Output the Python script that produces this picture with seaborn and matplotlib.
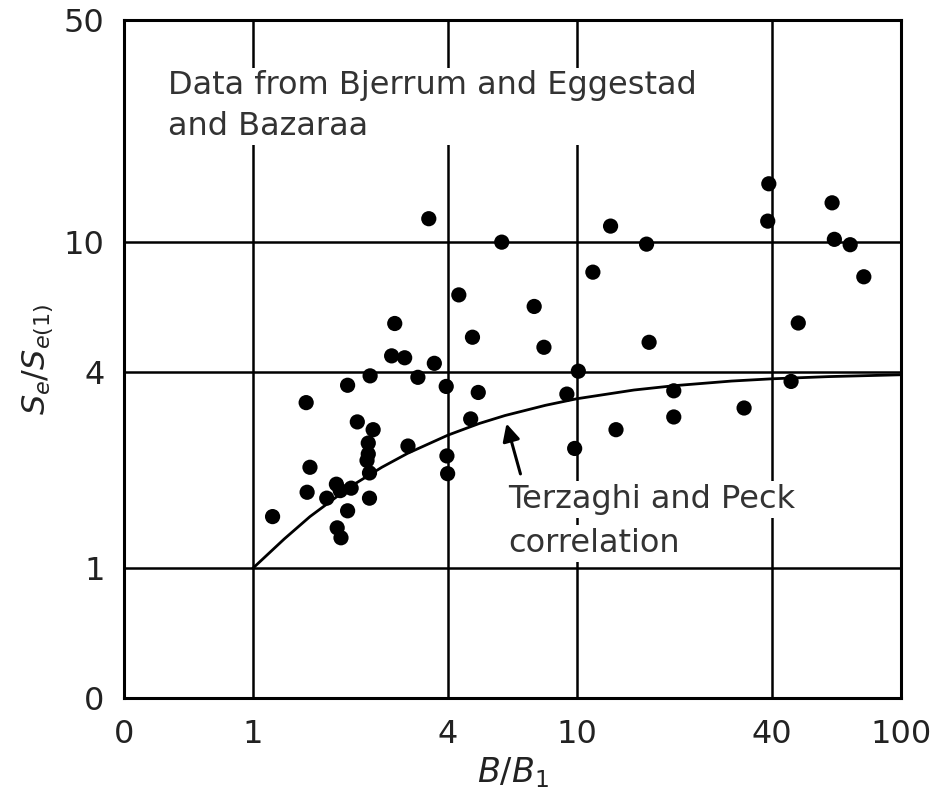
import numpy as np
import pandas as pd
import seaborn as sns
import matplotlib
matplotlib.use('Agg')
import matplotlib.pyplot as plt
from matplotlib.ticker import NullLocator

b_ratio = [2.74, 4.76, 2.68, 2.94, 3.63, 2.30, 3.23, 1.96, 3.95, 4.96,
           1.46, 2.10, 2.35, 2.27, 3.01, 2.27, 4.70, 3.97, 2.25, 1.50,
           2.29, 3.99, 1.81, 2.01, 1.47, 1.69, 2.29, 1.96, 1.15, 1.82,
           1.87, 3.49, 5.86, 12.7, 16.4, 11.2, 4.32, 7.38, 7.91, 16.7,
           10.1, 9.31, 13.2, 9.84, 39.1, 61.3, 38.8, 62.3, 69.7, 76.8,
           48.2, 45.8, 19.9, 19.9, 32.8, 1.86]
se_ratio = [5.63, 5.11, 4.48, 4.42, 4.25, 3.89, 3.85, 3.64, 3.61, 3.46,
            3.22, 2.81, 2.66, 2.42, 2.37, 2.24, 2.87, 2.21, 2.14, 2.04,
            1.96, 1.95, 1.81, 1.76, 1.71, 1.64, 1.64, 1.50, 1.44, 1.33,
            1.24, 11.8, 10.0, 11.2, 9.86, 8.09, 6.89, 6.35, 4.76, 4.93,
            4.02, 3.42, 2.66, 2.33, 15.1, 13.2, 11.6, 10.2, 9.82, 7.83,
            5.65, 3.74, 3.50, 2.91, 3.10, 1.73]

# Terzaghi and Peck correlation curve
tp_b = [1, 1.25, 1.5, 2, 2.5, 3, 4, 5, 6, 8, 10, 15, 20, 30, 40, 60, 100]
tp_se = [1.00, 1.23, 1.44, 1.78, 2.04, 2.25, 2.56, 2.78, 2.94, 3.16,
         3.31, 3.52, 3.63, 3.75, 3.81, 3.87, 3.92]

x_ticks = [0.4, 1, 4, 10, 40, 100]
x_labels = ['0', '1', '4', '10', '40', '100']
y_ticks = [0.4, 1, 4, 10, 48]
y_labels = ['0', '1', '4', '10', '50']

pts = pd.DataFrame({'b': b_ratio, 'se': se_ratio})
curve = pd.DataFrame({'b': tp_b, 'se': tp_se})

sns.set_theme(style='white')
plt.rcParams['font.family'] = ['DejaVu Sans']
plt.rcParams['mathtext.fontset'] = 'dejavusans'

fig = plt.figure(figsize=(9.32, 8.0), dpi=100)
ax = fig.add_axes([0.133, 0.1275, 0.8337, 0.8475])
ax.set_xscale('log')
ax.set_yscale('log')

sns.lineplot(data=curve, x='b', y='se', color='black', lw=2.0, ax=ax, zorder=3)
sns.scatterplot(data=pts, x='b', y='se', color='black', s=120, edgecolor='none', ax=ax, zorder=4)

ax.set_xlim(0.4, 100)
ax.set_ylim(0.4, 48)
ax.set_xticks(x_ticks)
ax.set_xticklabels(x_labels)
ax.set_yticks(y_ticks)
ax.set_yticklabels(y_labels)
ax.xaxis.set_minor_locator(NullLocator())
ax.yaxis.set_minor_locator(NullLocator())
ax.tick_params(axis='both', length=0, labelsize=23, labelcolor='#222222')
ax.tick_params(axis='x', pad=15)
ax.tick_params(axis='y', pad=14)

ax.grid(True, which='major', color='black', lw=1.8)
for sp in ax.spines.values():
    sp.set_color('black')
    sp.set_linewidth(2.2)

ax.set_xlabel(r'$B/B_1$', fontsize=24, color='#222222', labelpad=4)
ax.set_ylabel(r'$S_e/S_{e(1)}$', fontsize=23, color='#222222', labelpad=6)

ax.text(0.0566, 0.8304, 'Data from Bjerrum and Eggestad\nand Bazaraa', transform=ax.transAxes,
        fontsize=23, color='#333333', va='baseline', ha='left', linespacing=1.4,
        bbox=dict(facecolor='white', edgecolor='none', pad=2), zorder=5)
ax.text(0.4942, 0.2802, 'Terzaghi and Peck', transform=ax.transAxes,
        fontsize=23, color='#333333', va='baseline', ha='left',
        bbox=dict(facecolor='white', edgecolor='none', pad=2), zorder=5)
ax.text(0.4942, 0.2153, 'correlation', transform=ax.transAxes,
        fontsize=23, color='#333333', va='baseline', ha='left',
        bbox=dict(facecolor='white', edgecolor='none', pad=2), zorder=5)
ax.annotate('', xy=(6.03, 2.83), xytext=(6.73, 1.91),
            arrowprops=dict(arrowstyle='-|>', color='black', lw=2.2, mutation_scale=26))

fig.savefig('out.png', dpi=100, facecolor='white')
